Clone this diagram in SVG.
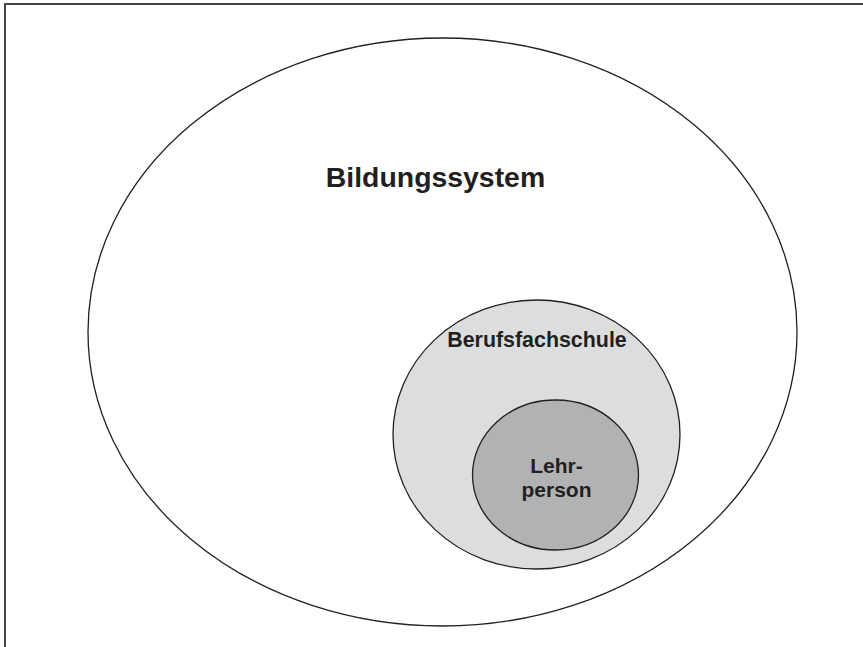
<svg xmlns="http://www.w3.org/2000/svg" width="863" height="647" viewBox="0 0 863 647">
<style>
.t{font-family:"Liberation Sans",Arial,sans-serif;font-weight:bold;fill:#231f20;text-anchor:middle}
.c{stroke:#231f20;stroke-width:1.3}
</style>
<rect x="0" y="0" width="863" height="647" fill="#fff"/>
<rect x="5" y="4" width="870" height="660" fill="none" stroke="#444" stroke-width="2"/>
<g id="bildungssystem">
<ellipse class="c" cx="442.5" cy="332" rx="354.5" ry="294" fill="#fff"/>
<text class="t" x="435.5" y="187" font-size="28.4">Bildungssystem</text>
</g>
<g id="berufsfachschule">
<ellipse class="c" cx="536.5" cy="434.5" rx="143.5" ry="134.5" fill="#dcdddf"/>
<text class="t" x="537" y="347" font-size="21.4">Berufsfachschule</text>
</g>
<g id="lehrperson">
<ellipse class="c" cx="555.5" cy="475" rx="83" ry="75" fill="#b1b2b4"/>
<text class="t" x="556.5" y="473" font-size="21">Lehr-</text>
<text class="t" x="556.5" y="497" font-size="21">person</text>
</g>
<g id="connectors"/>
</svg>
